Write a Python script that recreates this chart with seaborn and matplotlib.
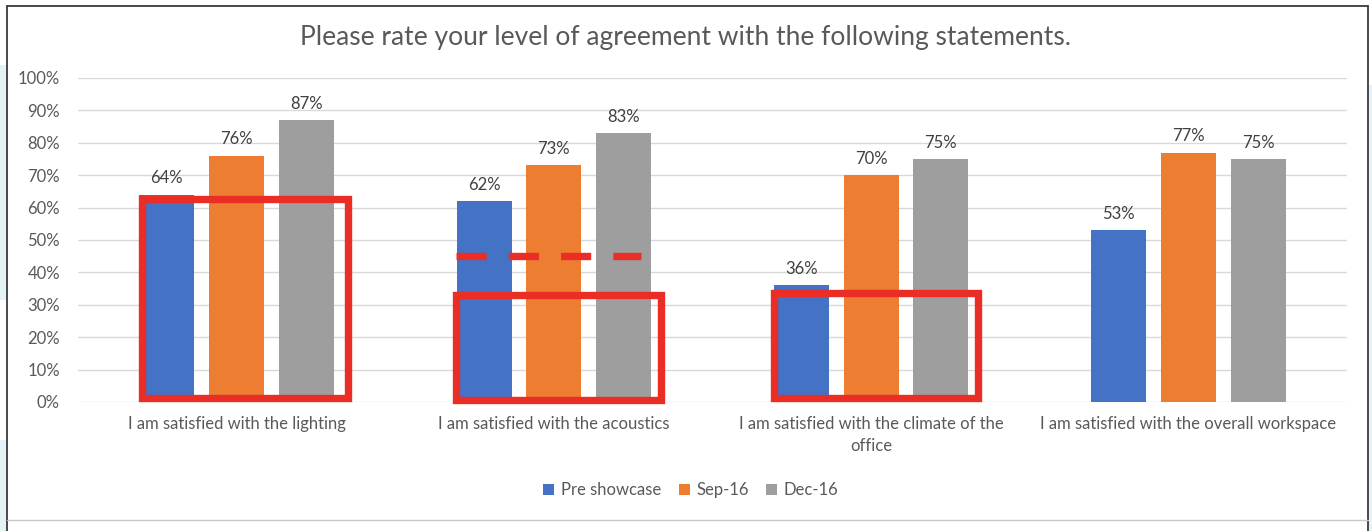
import matplotlib
matplotlib.use("Agg")
import matplotlib.pyplot as plt
from matplotlib.patches import Rectangle
from matplotlib.lines import Line2D
import seaborn as sns
import pandas as pd

# ---- data -------------------------------------------------------------
statements = [
    "I am satisfied with the lighting",
    "I am satisfied with the acoustics",
    "I am satisfied with the climate of the\noffice",
    "I am satisfied with the overall workspace",
]
periods = ["Pre showcase", "Sep-16", "Dec-16"]
pre_showcase = [64, 62, 36, 53]
sep_16 = [76, 73, 70, 77]
dec_16 = [87, 83, 75, 75]
y_ticks = [0, 10, 20, 30, 40, 50, 60, 70, 80, 90, 100]
title = "Please rate your level of agreement with the following statements."

# highlight boxes (x0, x1, y0, y1) and dashed reference line (x0, x1, y)
highlight_boxes = [
    (-0.298, 0.352, 1.2, 62.5),
    (0.692, 1.338, 0.6, 33.0),
    (1.693, 2.336, 1.2, 33.6),
]
ref_line = (0.692, 1.276, 45.2)

# ---- style ------------------------------------------------------------
sns.set_theme(style="white")
plt.rcParams["font.family"] = ["Lato", "DejaVu Sans"]
text_col = "#595959"
colors = ["#4472C4", "#ED7D31", "#9E9E9E"]
red = "#EA2E25"
fs = 12

df = pd.DataFrame({
    "statement": statements * 3,
    "period": [p for p in periods for _ in statements],
    "value": pre_showcase + sep_16 + dec_16,
})

W, H = 1372, 531
fig = plt.figure(figsize=(W / 100, H / 100), dpi=100)
fig.patch.set_facecolor("white")

# soft blue page background peeking out at the sides
for (x0, y0, x1, y1) in [(0, 65, 7, 300), (0, 440, 7, 531), (1369, 85, 1372, 531)]:
    fig.patches.append(Rectangle((x0 / W, 1 - y1 / H), (x1 - x0) / W, (y1 - y0) / H,
                                 transform=fig.transFigure, facecolor="#E4F3F8",
                                 edgecolor="none", zorder=0))

# chart frame
frame_kw = dict(transform=fig.transFigure, color="#3a3a3a", lw=1.3, zorder=5)
fig.add_artist(Line2D([7 / W, 7 / W], [0, 1 - 6 / H], **frame_kw))
fig.add_artist(Line2D([1368 / W, 1368 / W], [0, 1 - 6 / H], **frame_kw))
fig.add_artist(Line2D([7 / W, 1368 / W], [1 - 6 / H, 1 - 6 / H], **frame_kw))
fig.add_artist(Line2D([7 / W, 1368 / W], [1 - 520 / H, 1 - 520 / H],
                      transform=fig.transFigure, color="#c8c8c8", lw=1.0, zorder=5))

ax = fig.add_axes([78 / W, 1 - 402 / H, (1347 - 78) / W, (402 - 78) / H])
sns.barplot(data=df, x="statement", y="value", hue="period", hue_order=periods,
            palette=colors, width=0.66, gap=0.21, ax=ax, legend=False,
            linewidth=0, saturation=1)

ax.set_ylim(0, 100)
ax.set_xlim(-0.5, 3.5)
ax.set_yticks(y_ticks)
ax.set_yticklabels([f"{t}%" for t in y_ticks])
ax.yaxis.grid(True, color="#d9d9d9", lw=1.0)
ax.set_axisbelow(True)
for s in ax.spines.values():
    s.set_visible(False)
ax.tick_params(axis="both", length=0, colors=text_col, labelsize=fs)
ax.tick_params(axis="y", pad=13)
ax.tick_params(axis="x", pad=10)
ax.set_xlabel("")
ax.set_ylabel("")
for lab in ax.get_xticklabels():
    lab.set_linespacing(1.45)

for cont, vals in zip(ax.containers, [pre_showcase, sep_16, dec_16]):
    ax.bar_label(cont, labels=[f"{v}%" for v in vals], padding=6,
                 color="#404040", fontsize=fs)

# highlight annotations
for (x0, x1, y0, y1) in highlight_boxes:
    ax.add_patch(Rectangle((x0, y0), x1 - x0, y1 - y0, fill=False,
                           edgecolor=red, lw=5.3, zorder=6, clip_on=False,
                           joinstyle="miter"))
ax.plot([ref_line[0], ref_line[1]], [ref_line[2], ref_line[2]], color=red,
        lw=5.3, linestyle=(0, (4.1, 3.0)), zorder=6, solid_capstyle="butt",
        dash_capstyle="butt")

fig.text(0.5, 1 - 38 / H, title, ha="center", va="center", fontsize=19,
         color=text_col)

handles = [Rectangle((0, 0), 1, 1, facecolor=c, edgecolor="none") for c in colors]
fig.legend(handles, periods, loc="center", bbox_to_anchor=(691 / W, 1 - 490 / H),
           ncol=3, frameon=False, fontsize=fs, handlelength=0.65,
           handleheight=0.65, handletextpad=0.4, columnspacing=1.05,
           labelcolor=text_col)

fig.savefig("out.png", dpi=100, facecolor=fig.get_facecolor())
